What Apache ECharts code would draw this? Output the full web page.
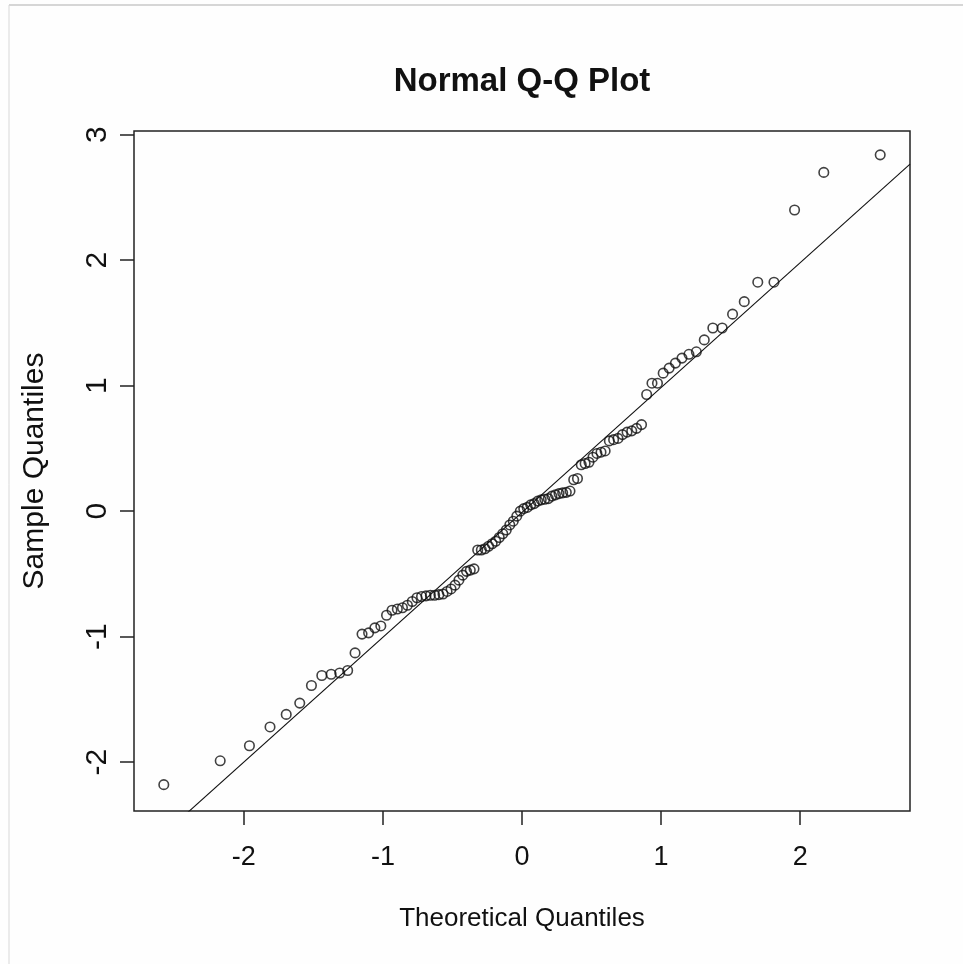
<!DOCTYPE html>
<html>
<head>
<meta charset="utf-8">
<script src="https://cdn.jsdelivr.net/npm/echarts@6/dist/echarts.min.js"></script>
<style>
  html, body { margin: 0; padding: 0; background: #fefefe; }
  #chart { width: 963px; height: 964px; }
</style>
</head>
<body>
<div id="chart"></div>
<script>
// Normal quantiles for n = 100 plotting positions
const theoreticalQuantiles = [
  -2.5758, -2.1701, -1.9600, -1.8119, -1.6954, -1.5982, -1.5141, -1.4395, -1.3722, -1.3106,
  -1.2536, -1.2004, -1.1503, -1.1031, -1.0581, -1.0152, -0.9741, -0.9346, -0.8965, -0.8596,
  -0.8239, -0.7892, -0.7554, -0.7225, -0.6903, -0.6588, -0.6280, -0.5978, -0.5681, -0.5388,
  -0.5101, -0.4817, -0.4538, -0.4261, -0.3989, -0.3719, -0.3451, -0.3186, -0.2924, -0.2663,
  -0.2404, -0.2147, -0.1891, -0.1637, -0.1383, -0.1130, -0.0878, -0.0627, -0.0376, -0.0125,
   0.0125,  0.0376,  0.0627,  0.0878,  0.1130,  0.1383,  0.1637,  0.1891,  0.2147,  0.2404,
   0.2663,  0.2924,  0.3186,  0.3451,  0.3719,  0.3989,  0.4261,  0.4538,  0.4817,  0.5101,
   0.5388,  0.5681,  0.5978,  0.6280,  0.6588,  0.6903,  0.7225,  0.7554,  0.7892,  0.8239,
   0.8596,  0.8965,  0.9346,  0.9741,  1.0152,  1.0581,  1.1031,  1.1503,  1.2004,  1.2536,
   1.3106,  1.3722,  1.4395,  1.5141,  1.5982,  1.6954,  1.8119,  1.9600,  2.1701,  2.5758
];

// Ordered standardized residuals
const sampleQuantiles = [
  -2.18, -1.99, -1.87, -1.72, -1.62, -1.53, -1.39, -1.31, -1.30, -1.29,
  -1.27, -1.13, -0.98, -0.97, -0.93, -0.915, -0.83, -0.79, -0.78, -0.77,
  -0.75, -0.72, -0.69, -0.68, -0.675, -0.67, -0.67, -0.665, -0.66, -0.64,
  -0.62, -0.59, -0.55, -0.51, -0.48, -0.47, -0.46, -0.31, -0.31, -0.30,
  -0.28, -0.26, -0.24, -0.21, -0.18, -0.15, -0.11, -0.08, -0.04, 0.00,
   0.02, 0.03, 0.05, 0.06, 0.08, 0.09, 0.095, 0.10, 0.12, 0.13,
   0.14, 0.146, 0.15, 0.16, 0.25, 0.26, 0.37, 0.38, 0.39, 0.43,
   0.46, 0.47, 0.48, 0.56, 0.57, 0.58, 0.61, 0.63, 0.64, 0.66,
   0.69, 0.93, 1.02, 1.02, 1.10, 1.14, 1.18, 1.22, 1.25, 1.27,
   1.365, 1.46, 1.46, 1.57, 1.67, 1.825, 1.825, 2.40, 2.70, 2.84
];

const xTicks = [-2, -1, 0, 1, 2];
const yTicks = [-2, -1, 0, 1, 2, 3];
const xLimits = [-2.79, 2.79];
const yLimits = [-2.39, 3.03];

// Reference line through the points
const refLine = { intercept: -0.01, slope: 0.995 };

const FONT = '"Liberation Sans", Arial, sans-serif';
const INK = '#111';

const points = theoreticalQuantiles.map((q, i) => [q, sampleQuantiles[i]]);
const lineData = xLimits.map(x => [x, refLine.intercept + refLine.slope * x]);

const chart = echarts.init(document.getElementById('chart'), null, { renderer: 'canvas' });

chart.setOption({
  backgroundColor: '#fefefe',
  animation: false,
  title: {
    text: 'Normal Q-Q Plot',
    left: 517,
    top: 60,
    textAlign: 'center',
    textStyle: { fontFamily: FONT, fontWeight: 'bold', fontSize: 33, color: INK }
  },
  grid: {
    left: 134, right: 53, top: 131, bottom: 153,
    show: true, borderColor: '#222', borderWidth: 1.5, backgroundColor: 'transparent'
  },
  xAxis: {
    type: 'value',
    min: xLimits[0], max: xLimits[1],
    name: 'Theoretical Quantiles',
    nameLocation: 'middle',
    nameGap: 95,
    nameTextStyle: { fontFamily: FONT, fontSize: 26, color: INK },
    axisLine: { show: false, onZero: false },
    axisTick: { show: true, length: 14, customValues: xTicks, lineStyle: { color: '#222', width: 1.5 } },
    axisLabel: { customValues: xTicks, fontFamily: FONT, fontSize: 27, color: INK, margin: 33 },
    splitLine: { show: false }
  },
  yAxis: {
    type: 'value',
    min: yLimits[0], max: yLimits[1],
    name: 'Sample Quantiles',
    nameLocation: 'middle',
    nameRotate: 90,
    nameGap: 84,
    nameTextStyle: { fontFamily: FONT, fontSize: 30, color: INK },
    axisLine: { show: false, onZero: false },
    axisTick: { show: true, length: 14, customValues: yTicks, lineStyle: { color: '#222', width: 1.5 } },
    axisLabel: { customValues: yTicks, rotate: 90, fontFamily: FONT, fontSize: 30, color: INK, margin: 21 },
    splitLine: { show: false }
  },
  graphic: [
    { type: 'line', shape: { x1: 9, y1: 5, x2: 963, y2: 5 }, style: { stroke: '#c8c8c8', lineWidth: 1.5 } },
    { type: 'line', shape: { x1: 9, y1: 5, x2: 9, y2: 964 }, style: { stroke: '#d8d8d8', lineWidth: 1 } }
  ],
  series: [
    {
      type: 'line',
      data: lineData,
      showSymbol: false,
      clip: true,
      lineStyle: { color: '#111', width: 1.1 },
      z: 2
    },
    {
      type: 'scatter',
      data: points,
      symbol: 'circle',
      symbolSize: 9.5,
      itemStyle: { color: 'rgba(0,0,0,0)', borderColor: '#111', borderWidth: 1.6 },
      z: 3
    }
  ]
});
</script>
</body>
</html>
